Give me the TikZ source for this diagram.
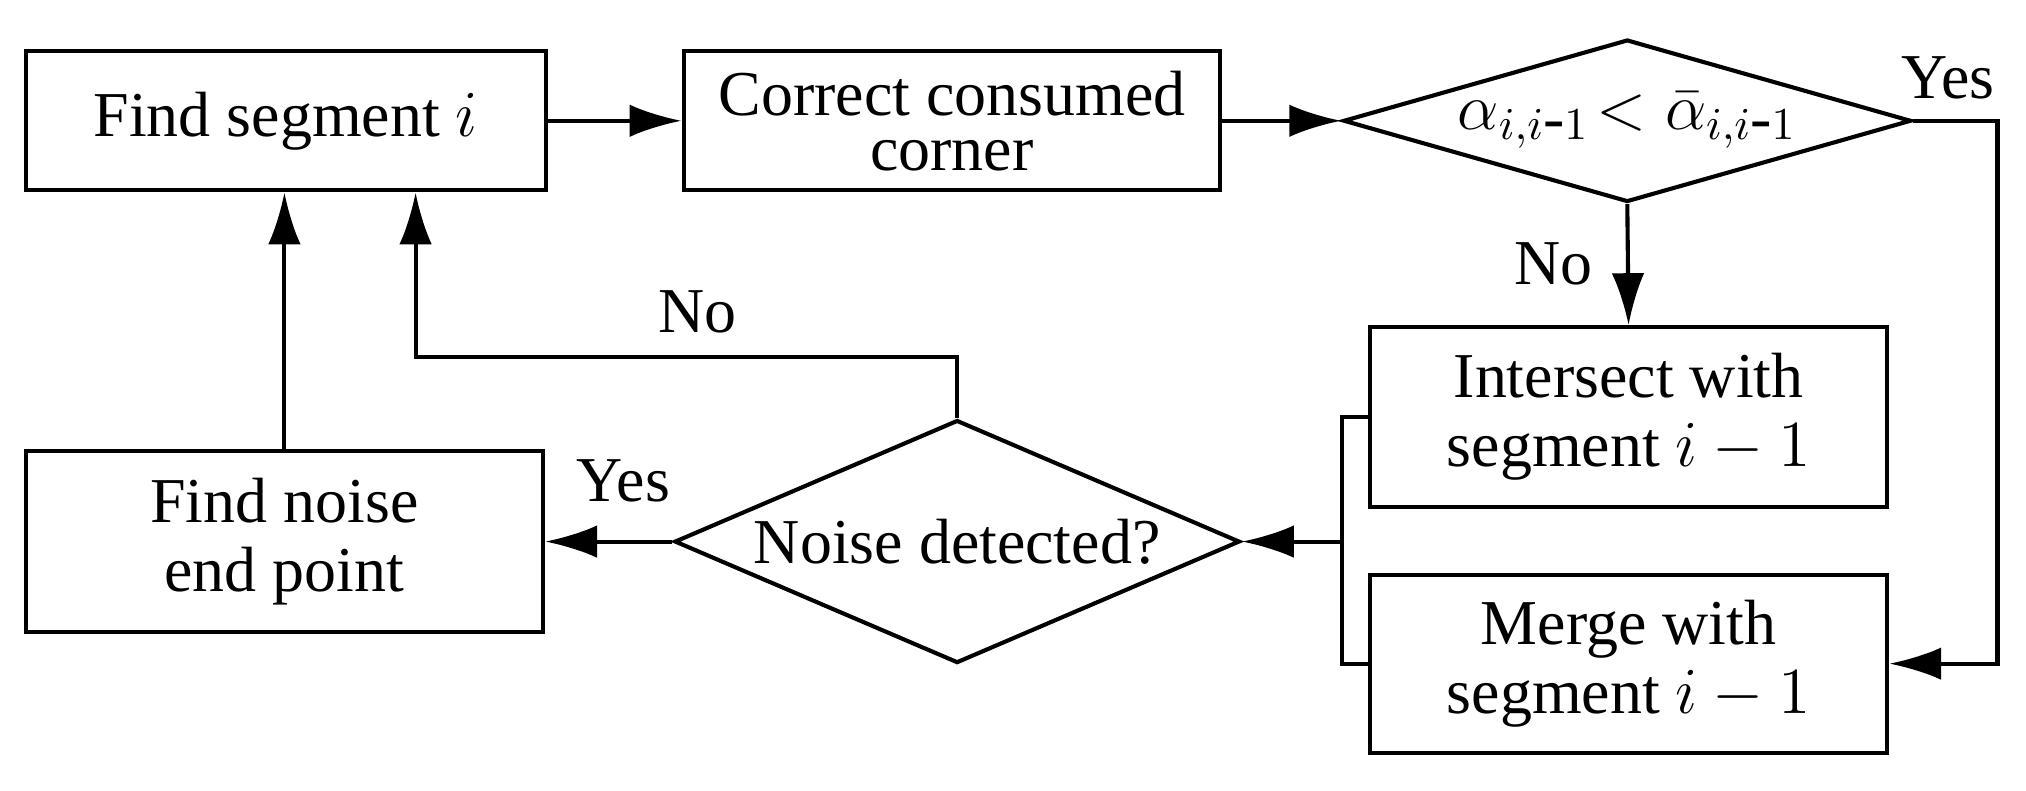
\documentclass[tikz,border=0pt]{standalone}
\usepackage{fontspec}
\setmainfont{Liberation Serif}
\usetikzlibrary{shapes.geometric,arrows.meta}
\begin{document}
\begin{tikzpicture}[x=0.01cm,y=-0.01cm,line width=0.9pt,
  every node/.style={font=\fontsize{14}{15}\selectfont},
  box/.style={draw,rectangle,inner sep=0pt,align=center},
  dia/.style={draw,diamond,inner sep=0pt,align=center},
  arr/.style={-{Latex[length=0.4cm,width=0.25cm]}},
  lbl/.style={inner sep=0pt}]
\useasboundingbox (0,0) rectangle (1560,609);
\node[box,minimum width=4.0cm,minimum height=1.07cm] (A) at (220,93) {Find segment $i$};
\node[box,minimum width=4.13cm,minimum height=1.07cm] (B) at (733,93) {Correct consumed\\[-3pt]corner};
\node[dia,shape aspect=3.5,minimum width=4.37cm,minimum height=1.25cm] (C) at (1253,93) {$\alpha_{i,i\mbox{-}1}\!<\bar{\alpha}_{i,i\mbox{-}1}$};
\node[box,minimum width=3.98cm,minimum height=1.38cm] (D) at (1254,321) {Intersect with\\segment $i-1$};
\node[box,minimum width=3.98cm,minimum height=1.37cm] (E) at (1254,511) {Merge with\\segment $i-1$};
\node[dia,shape aspect=2.33,minimum width=4.35cm,minimum height=1.87cm] (F) at (737,417) {Noise detected?};
\node[box,minimum width=3.98cm,minimum height=1.39cm] (G) at (219,417) {Find noise\\end point};
\coordinate (cr) at (1538,93);
\coordinate (ce) at (1538,511);
\coordinate (bt) at (1033,321);
\coordinate (bb) at (1033,511);
\coordinate (bm) at (1033,417);
\coordinate (f1) at (737,275);
\coordinate (f2) at (320,275);
\draw[arr] (A) -- (B);
\draw[arr] (B) -- (C);
\draw[arr] (C.east) -- (cr) -- (ce) -- (E.east);
\draw[arr] (C.south) -- (D.north);
\draw (D.west) -- (bt) -- (bb) -- (E.west);
\draw[arr] (bm) -- (F.east);
\draw[arr] (F.west) -- (G.east);
\draw[arr] (F.north) -- (f1) -- (f2) -- (f2|-A.south);
\draw[arr] (G.north) -- (A.south -| G.north);
\node[lbl] (y1) at (1500,60) {Yes};
\node[lbl] (n1) at (1196,203) {No};
\node[lbl] (y2) at (480,370) {Yes};
\node[lbl] (n2) at (537,240) {No};
\end{tikzpicture}
\end{document}
